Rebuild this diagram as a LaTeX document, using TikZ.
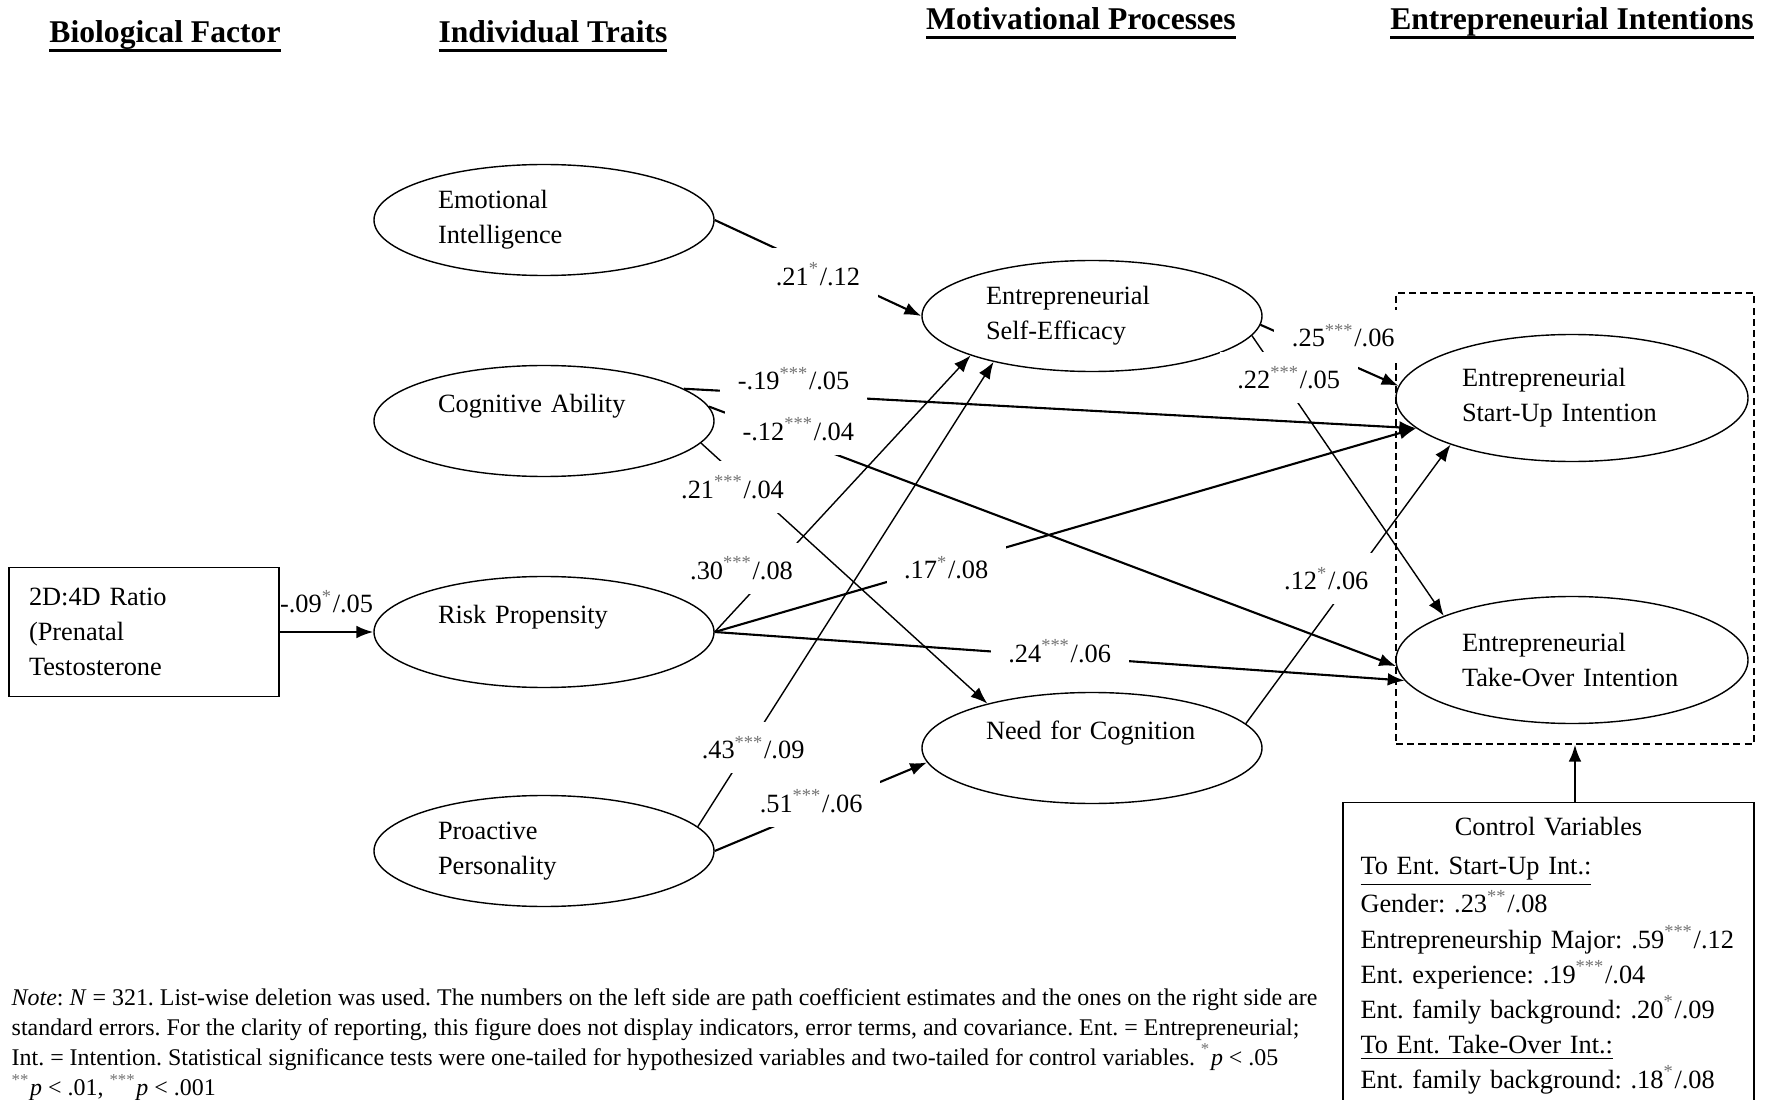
\documentclass[tikz,border=0pt]{standalone}
\usepackage{fontspec}
\setmainfont{Liberation Serif}
\usetikzlibrary{positioning,shapes.geometric,arrows.meta}
\newcommand{\sig}[1]{\textsuperscript{\textcolor{black!55}{#1}}}
\newcommand{\headul}[1]{\setbox0=\hbox{#1}\rlap{\rule[-2.6pt]{\wd0}{0.85pt}}\box0}
\frenchspacing

\begin{document}
\begin{tikzpicture}[on grid,
every node/.style={font=\fontsize{7.5}{10}\selectfont},
latent/.style={ellipse, draw, line width=0.4pt, minimum width=3.4cm, minimum height=1.11cm, text width=2.12cm, align=left, inner sep=0pt},
intent/.style={latent, minimum width=3.52cm, minimum height=1.27cm, text width=2.2cm},
obs/.style={draw, line width=0.5pt, minimum width=2.7cm, minimum height=1.29cm, text width=2.3cm, align=left, inner sep=0.2cm},
group/.style={draw, dash pattern=on 2pt off 1.2pt, line width=0.4pt, minimum width=3.58cm, minimum height=4.51cm, inner sep=0pt},
ctrl/.style={draw, line width=0.5pt, text width=3.76cm, align=left, inner xsep=0.175cm, inner ysep=0.145cm},
head/.style={font=\fontsize{9}{11}\selectfont\bfseries, inner sep=0pt},
note/.style={font=\fontsize{6.81}{8.6}\selectfont, align=left, inner sep=0pt},
coef/.style={fill=white, inner xsep=5pt, inner ysep=4pt},
heavy/.style={-{Latex[length=4.8pt,width=3.6pt]}, line width=0.6pt},
light/.style={heavy, line width=0.4pt}]
\clip (0,0) rectangle (17.71,-11);

\node[obs](r) at (1.44,-6.32) {2D:4D Ratio\\(Prenatal\\Testosterone};
\node[latent](t3)[right=4cm of r] {Risk Propensity\\\mbox{}};
\node[latent](t1)[above=4.12cm of t3] {Emotional\\Intelligence};
\node[latent](t2)[above=2.11cm of t3] {Cognitive Ability\\\mbox{}};
\node[latent](t4)[below=2.19cm of t3] {Proactive\\Personality};
\node[latent](m1)[below right=0.96cm and 5.48cm of t1] {Entrepreneurial\\Self-Efficacy};
\node[latent](m2)[below=4.32cm of m1] {Need for Cognition\\\mbox{}};
\node[intent](i1)[below right=0.82cm and 4.8cm of m1] {Entrepreneurial\\Start-Up Intention};
\node[intent](i2)[below=2.62cm of i1] {Entrepreneurial\\Take-Over Intention};
\node[group](d)[below right=1.205cm and 0.03cm of i1] {};
\node[ctrl, on grid=false](cv)[below=0.57cm of d, xshift=-0.265cm] {\makebox[3.76cm]{Control Variables}\\[1pt]
\underline{To Ent. Start-Up Int.:}\\
Gender: .23\sig{**}/.08\\
Entrepreneurship Major: .59\sig{***}/.12\\
Ent. experience: .19\sig{***}/.04\\
Ent. family background: .20\sig{*}/.09\\
\underline{To Ent. Take-Over Int.:}\\
Ent. family background: .18\sig{*}/.08};

\node[head](h1)[above right=5.955cm and 0.21cm of r] {\headul{Biological Factor}};
\node[head](h2)[above right=1.835cm and 0.09cm of t1] {\headul{Individual Traits}};
\node[head](h3)[above left=2.925cm and 0.11cm of m1] {\headul{Motivational Processes}};
\node[head](h4)[above=3.745cm of i1] {\headul{Entrepreneurial Intentions}};

\node[note, anchor=west](n) at (0.11,-10.445) {\textit{Note}: \textit{N} = 321. List-wise deletion was used. The numbers on the left side are path coefficient estimates and the ones on the right side are\\
standard errors. For the clarity of reporting, this figure does not display indicators, error terms, and covariance. Ent. = Entrepreneurial;\\
Int. = Intention. Statistical significance tests were one-tailed for hypothesized variables and two-tailed for control variables. \sig{*}\textit{p} < .05\\
\sig{**}\textit{p} < .01, \sig{***}\textit{p} < .001};

\draw[heavy] (r) -- node[above=4pt, inner sep=1pt] {-.09\sig{*}/.05} (t3);
\draw[heavy] (t1.east) -- node[coef, yshift=-.06cm] {.21\sig{*}/.12} (m1.west);
\draw[heavy] (t2.13) -- node[coef, pos=.15, yshift=.16cm] {-.19\sig{***}/.05} (i1.191);
\draw[heavy] (t2.5) -- node[coef, pos=.13, yshift=.11cm] {-.12\sig{***}/.04} (i2.182);
\draw[light] (t2.352) -- node[coef, pos=.18, xshift=-.2cm, yshift=.03cm] {.21\sig{***}/.04} (m2.157);
\draw[light] (t3.east) -- node[coef, pos=.23, xshift=-.32cm] {.30\sig{***}/.08} (m1.198);
\draw[heavy] (t3.east) -- node[coef, pos=.33, yshift=-.03cm] {.17\sig{*}/.08} (i1.191);
\draw[heavy] (t3.east) -- node[coef, pos=.5, yshift=.05cm] {.24\sig{***}/.06} (i2.187);
\draw[light] (t4.9) -- node[coef, pos=.17, xshift=.05cm] {.43\sig{***}/.09} (m1.205);
\draw[heavy] (t4.east) -- node[coef, pos=.44, xshift=.03cm, yshift=.11cm] {.51\sig{***}/.06} (m2.185);
\draw[heavy] (m1.357) -- node[coef, pos=.6, yshift=.26cm] {.25\sig{***}/.06} (i1.176);
\draw[light] (m1.353) -- node[coef, pos=.15, xshift=.08cm] {.22\sig{***}/.05} (i2.161);
\draw[light] (m2.9) -- node[coef, pos=.52, xshift=-.26cm] {.12\sig{*}/.06} (i1.201);
\draw[heavy] (cv.north -| d.south) -- (d.south);
\end{tikzpicture}
\end{document}
